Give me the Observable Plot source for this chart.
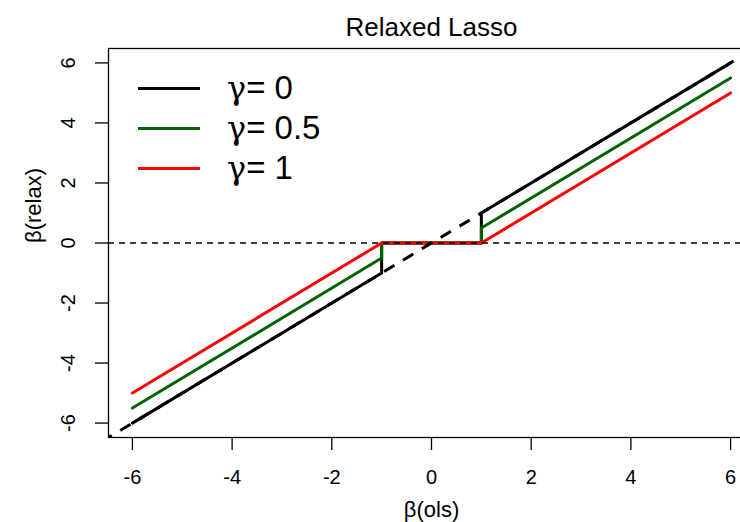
<!DOCTYPE html>
<html><head><meta charset="utf-8">
<script src="https://cdn.jsdelivr.net/npm/d3@7"></script>
<script src="https://cdn.jsdelivr.net/npm/@observablehq/plot@0.6"></script>
<style>
body{margin:0;background:#fff;}
#wrap{position:relative;width:740px;height:522px;overflow:hidden;}
#legend{position:absolute;left:138px;top:68px;font-family:"Liberation Sans",Arial,sans-serif;font-size:33px;color:#000;}
.row{display:flex;align-items:center;height:40px;}
.sw{width:62px;height:3px;margin-right:27px;}
.g{font-family:"DejaVu Serif","Liberation Serif",serif;font-size:32px;}
</style></head><body><div id="wrap"><div id="legend"></div></div>
<script>
// data
const title = "Relaxed Lasso";
const xLabel = "β(ols)";
const yLabel = "β(relax)";
const xTicks = [-6, -4, -2, 0, 2, 4, 6];
const xTickLabels = ["-6", "-4", "-2", "0", "2", "4", "6"];
const yTicks = [-6, -4, -2, 0, 2, 4, 6];
const yTickLabels = ["-6", "-4", "-2", "0", "2", "4", "6"];
const olsX = [-6, -1, -1, 1, 1, 6];
const gammaNames = ["0", "0.5", "1"];
const relaxG0 = [-6, -1, 0, 0, 1, 6];
const relaxG05 = [-5.5, -0.5, 0, 0, 0.5, 5.5];
const relaxG1 = [-5, 0, 0, 0, 0, 5];
const seriesColors = ["#000000", "#006400", "#ff0000"];
const diagX = [-7, 7];

const seriesY = [relaxG0, relaxG05, relaxG1];
const lineMarks = seriesY.map((ys, k) =>
  Plot.line(olsX.map((x, i) => ({x, y: ys[i]})), {x: "x", y: "y", stroke: seriesColors[k], strokeWidth: 3, strokeLinecap: "round"})
);

const plot = Plot.plot({
  width: 740, height: 522,
  marginTop: 48, marginBottom: 85, marginLeft: 108, marginRight: -14,
  x: {domain: [-6.48, 6.48]},
  y: {domain: [-6.48, 6.48]},
  style: {fontFamily: "Liberation Sans, Arial, sans-serif", fontSize: "20px", color: "black", background: "transparent", overflow: "hidden"},
  marks: [
    Plot.axisX({ticks: xTicks, tickSize: 13, tickPadding: 19, tickFormat: d => xTickLabels[xTicks.indexOf(d)], label: null, strokeWidth: 1.3, fontSize: 20}),
    Plot.axisY({ticks: yTicks, tickSize: 13, tickPadding: 21, tickRotate: -90, tickFormat: d => yTickLabels[yTicks.indexOf(d)], label: null, strokeWidth: 1.3, fontSize: 20}),
    ...lineMarks,
    Plot.ruleY([0], {stroke: "black", strokeWidth: 1.5, strokeDasharray: "6,5"}),
    Plot.line(diagX.map(x => ({x, y: x})), {x: "x", y: "y", stroke: "black", strokeWidth: 3, strokeDasharray: "12,10", strokeLinecap: "butt", clip: true}),
    Plot.frame({stroke: "black", strokeWidth: 1.3}),
    Plot.text([title], {frameAnchor: "top", lineAnchor: "middle", dy: -21, fontSize: 26}),
    Plot.text([xLabel], {frameAnchor: "bottom", lineAnchor: "middle", dy: 72, fontSize: 22}),
    Plot.text([yLabel], {frameAnchor: "left", lineAnchor: "middle", dx: -75, rotate: -90, fontSize: 22})
  ]
});
const wrap = document.getElementById("wrap");
wrap.insertBefore(plot, wrap.firstChild);

const legend = document.getElementById("legend");
gammaNames.forEach((g, k) => {
  const row = document.createElement("div");
  row.className = "row";
  row.innerHTML = `<div class="sw" style="background:${seriesColors[k]}"></div><span><span class="g">γ</span>= ${g}</span>`;
  legend.appendChild(row);
});
</script>
</body></html>
